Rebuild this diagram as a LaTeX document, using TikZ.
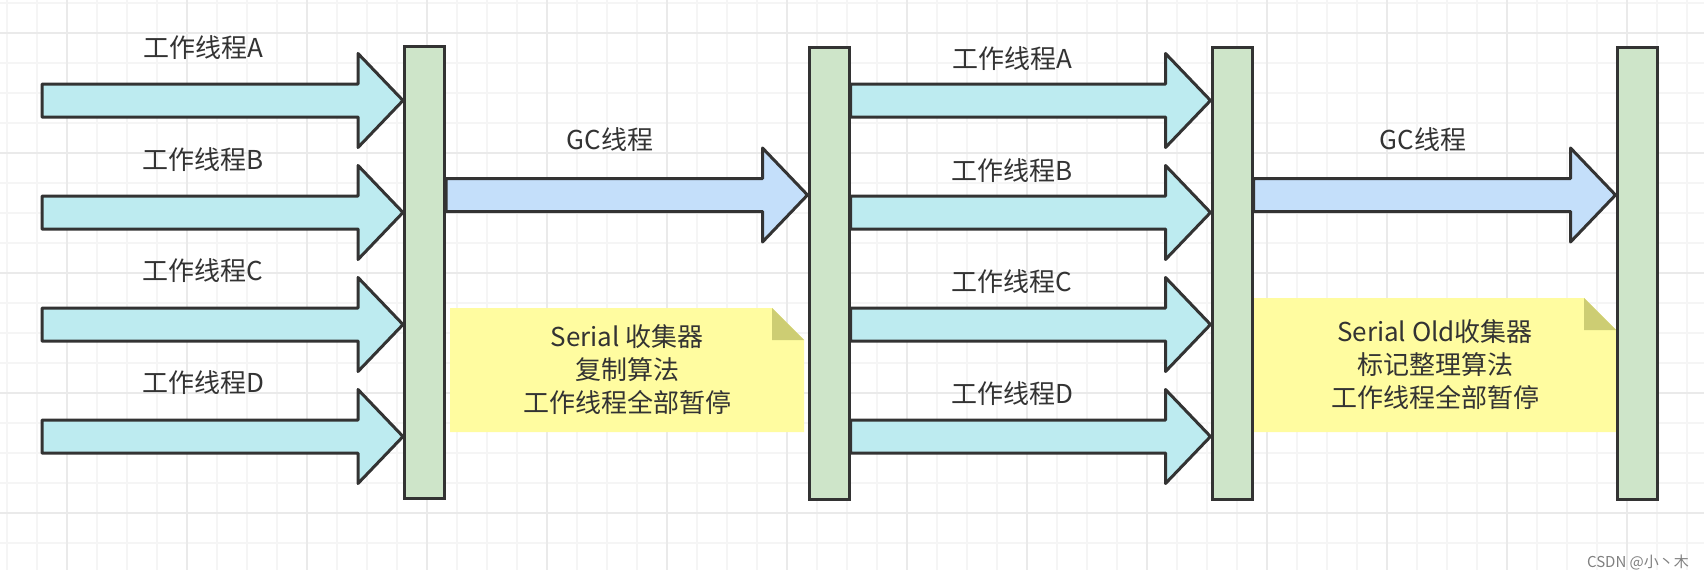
\documentclass[tikz,border=0pt]{standalone}
\usepackage{fontspec}
\setmainfont{Noto Sans CJK SC}
\usetikzlibrary{calc}

\definecolor{edge}{HTML}{333333}
\definecolor{workfill}{RGB}{189,235,240}
\definecolor{gcfill}{RGB}{196,223,250}
\definecolor{barfill}{RGB}{206,229,201}
\definecolor{notefill}{RGB}{255,252,160}
\definecolor{foldfill}{RGB}{205,205,115}
\definecolor{gridminor}{RGB}{245,245,245}
\definecolor{gridmajor}{RGB}{234,234,234}

\tikzset{
  bar/.style={draw=edge,line width=3pt,fill=barfill,minimum width=40pt,minimum height=452pt,inner sep=0pt},
  fatline/.style={draw=edge,line width=3pt,line join=round},
  tname/.style={text=edge,font=\fontsize{26}{31}\selectfont,inner sep=0pt},
  memo/.style={text=edge,font=\fontsize{26}{33}\selectfont,align=center,inner sep=0pt,
    path picture={
      \fill[notefill] (path picture bounding box.south west) -- (path picture bounding box.north west)
        -- ([xshift=-32pt]path picture bounding box.north east) -- ([yshift=-32pt]path picture bounding box.north east)
        -- (path picture bounding box.south east) -- cycle;
      \fill[foldfill] ([xshift=-32pt]path picture bounding box.north east) -- ([yshift=-32pt]path picture bounding box.north east)
        -- ([xshift=-32pt,yshift=-32pt]path picture bounding box.north east) -- cycle;}},
}

% fat block arrow: start, tip, fill colour
\newcommand{\fatarrow}[3]{%
  \draw[fatline,fill=#3] let \p1=(#1), \p2=(#2) in
    (\x1,\y1+16.5pt) -- (\x2-45pt,\y1+16.5pt) -- (\x2-45pt,\y1+47pt) -- (\x2,\y1)
    -- (\x2-45pt,\y1-47pt) -- (\x2-45pt,\y1-16.5pt) -- (\x1,\y1-16.5pt) -- cycle;}

\begin{document}
\begin{tikzpicture}[x=1pt,y=-1pt]
    \useasboundingbox (0,0) rectangle (1704,570);
    \fill[white] (0,0) rectangle (1704,570);

    % grid
    \foreach \gx in {7,37,...,1704} \draw[gridminor,line width=2pt] (\gx,0) -- (\gx,570);
    \foreach \gy in {3,33,...,570} \draw[gridminor,line width=2pt] (0,\gy) -- (1704,\gy);
    \foreach \gx in {67,187,...,1704} \draw[gridmajor,line width=2pt] (\gx,0) -- (\gx,570);
    \foreach \gy in {33,153,...,570} \draw[gridmajor,line width=2pt] (0,\gy) -- (1704,\gy);

    % notes
    \node[memo,minimum width=354pt,minimum height=124pt] (note1) at (627,370)
        {Serial 收集器\\复制算法\\工作线程全部暂停};
    \node[memo,minimum width=362pt,minimum height=134pt] (note2) at (1435,365)
        {Serial Old收集器\\标记整理算法\\工作线程全部暂停};

    % pauses
    \node[bar] (bar1) at (424.5,272) {};
    \node[bar] (bar2) at (829,273) {};
    \node[bar] (bar3) at (1232,273) {};
    \node[bar] (bar4) at (1637,273) {};

    % rows
    \coordinate (wa) at (42,100.5);
    \coordinate (wb) at (42,212.5);
    \coordinate (wc) at (42,324.5);
    \coordinate (wd) at (42,436.5);
    \coordinate (gc) at (0,195);

    \fatarrow{wa}{bar1.west |- wa}{workfill}
    \fatarrow{wb}{bar1.west |- wb}{workfill}
    \fatarrow{wc}{bar1.west |- wc}{workfill}
    \fatarrow{wd}{bar1.west |- wd}{workfill}

    \fatarrow{bar1.east |- gc}{bar2.west |- gc}{gcfill}

    \fatarrow{bar2.east |- wa}{bar3.west |- wa}{workfill}
    \fatarrow{bar2.east |- wb}{bar3.west |- wb}{workfill}
    \fatarrow{bar2.east |- wc}{bar3.west |- wc}{workfill}
    \fatarrow{bar2.east |- wd}{bar3.west |- wd}{workfill}

    \fatarrow{bar3.east |- gc}{bar4.west |- gc}{gcfill}

    % labels
    \node[tname] (la1) at (203,48) {工作线程A};
    \node[tname] (lb1) at (203,160) {工作线程B};
    \node[tname] (lc1) at (203,271) {工作线程C};
    \node[tname] (ld1) at (203,383) {工作线程D};
    \node[tname] (lgc1) at (610,140) {GC线程};
    \node[tname] (la2) at (1012,59) {工作线程A};
    \node[tname] (lb2) at (1012,171) {工作线程B};
    \node[tname] (lc2) at (1012,282) {工作线程C};
    \node[tname] (ld2) at (1012,394) {工作线程D};
    \node[tname] (lgc2) at (1423,140) {GC线程};

    \node[text=gray,font=\fontsize{15}{18}\selectfont,inner sep=0pt] (mark) at (1638,562) {CSDN @小丶木};
\end{tikzpicture}
\end{document}
